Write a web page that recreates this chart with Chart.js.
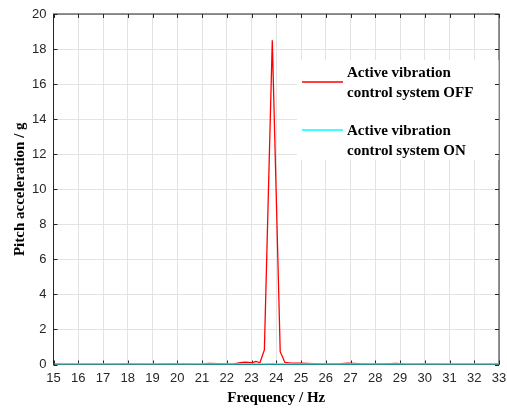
<!DOCTYPE html>
<html>
<head>
<meta charset="utf-8">
<script src="https://cdn.jsdelivr.net/npm/chart.js@4/dist/chart.umd.min.js"></script>
<style>
  html, body { margin: 0; padding: 0; background: #fff; }
  #wrap { width: 507px; height: 410px; }
</style>
</head>
<body>
<div id="wrap"><canvas id="grafico" width="507" height="410"></canvas></div>
<script>
// Frecuencias (Hz) y aceleración de cabeceo (g) con el control activo apagado / encendido
const frecuencias = [15.04, 15.5, 16, 16.5, 17, 17.5, 18, 18.5, 19, 19.5, 20, 20.5, 21, 21.3, 21.6, 22, 22.3,
  22.54, 22.74, 23.01, 23.18, 23.34, 23.52, 23.84, 24.16, 24.35, 24.6, 24.96, 25.5, 26, 26.5, 26.9, 27.1,
  27.5, 28, 28.5, 28.8, 29.2, 29.5, 30, 30.5, 31, 31.5, 32, 32.5, 33];
const controlOff = [0.02, 0.02, 0.02, 0.02, 0.02, 0.02, 0.03, 0.02, 0.02, 0.03, 0.03, 0.02, 0.03, 0.06, 0.05, 0.03, 0.04,
  0.10, 0.14, 0.10, 0.18, 0.10, 0.83, 18.5, 0.73, 0.12, 0.08, 0.07, 0.05, 0.04, 0.03, 0.07, 0.06,
  0.03, 0.04, 0.03, 0.06, 0.03, 0.02, 0.03, 0.02, 0.02, 0.02, 0.02, 0.02, 0.02];
const controlOn = [0.02, 0.02, 0.02, 0.02, 0.02, 0.02, 0.02, 0.02, 0.02, 0.02, 0.02, 0.02, 0.02, 0.02, 0.02, 0.02, 0.02,
  0.02, 0.02, 0.02, 0.02, 0.02, 0.02, 0.03, 0.02, 0.02, 0.02, 0.02, 0.02, 0.02, 0.02, 0.02, 0.02,
  0.02, 0.02, 0.02, 0.02, 0.02, 0.02, 0.02, 0.02, 0.02, 0.02, 0.02, 0.02, 0.02];
const etiquetasLeyenda = [
  ["Active vibration", "control system OFF"],
  ["Active vibration", "control system ON"]
];

const colorEje = "#262626";
const fuenteTitulo = { family: "'Liberation Serif', 'Times New Roman', serif", size: 15, weight: "bold" };
const fuenteTicks = { family: "'Liberation Sans', Arial, sans-serif", size: 13 };

// Marco completo con marcas hacia dentro (debajo de las curvas) y leyenda de dos líneas (encima)
const marcoYLeyenda = {
  id: "marcoYLeyenda",
  beforeDatasetsDraw(chart) {
    const ctx = chart.ctx;
    const { left, right, top, bottom } = chart.chartArea;
    const x = chart.scales.x, y = chart.scales.y;
    ctx.save();
    ctx.strokeStyle = colorEje;
    ctx.lineWidth = 1;
    ctx.strokeRect(left, top, right - left, bottom - top);
    ctx.beginPath();
    x.ticks.forEach(t => {
      const px = Math.round(x.getPixelForValue(t.value)) + 0.5;
      ctx.moveTo(px, bottom); ctx.lineTo(px, bottom - 4);
      ctx.moveTo(px, top); ctx.lineTo(px, top + 4);
    });
    y.ticks.forEach(t => {
      const py = Math.round(y.getPixelForValue(t.value)) + 0.5;
      ctx.moveTo(left, py); ctx.lineTo(left + 4, py);
      ctx.moveTo(right, py); ctx.lineTo(right - 4, py);
    });
    ctx.stroke();
    ctx.restore();
  },
  afterDatasetsDraw(chart) {
    const ctx = chart.ctx;
    const { right } = chart.chartArea;
    const y = chart.scales.y;
    ctx.save();
    ctx.fillStyle = "#fff";
    ctx.fillRect(297, 60, right - 297 - 0.5, 100);
    const filas = [{ linea: 82, texto: 73 }, { linea: 130, texto: 131 }];
    chart.data.datasets.forEach((ds, i) => {
      ctx.strokeStyle = ds.borderColor;
      ctx.lineWidth = 1.5;
      ctx.beginPath();
      ctx.moveTo(302, filas[i].linea);
      ctx.lineTo(343, filas[i].linea);
      ctx.stroke();
      ctx.fillStyle = "#000";
      ctx.font = "bold 15px 'Liberation Serif', 'Times New Roman', serif";
      ctx.textBaseline = "middle";
      etiquetasLeyenda[i].forEach((t, j) => ctx.fillText(t, 347, filas[i].texto + j * 20));
    });
    // las marcas del eje derecho quedan por encima de la leyenda
    ctx.strokeStyle = colorEje;
    ctx.lineWidth = 1;
    ctx.beginPath();
    y.ticks.forEach(t => {
      const py = Math.round(y.getPixelForValue(t.value)) + 0.5;
      if (py > 60 && py < 160) { ctx.moveTo(right, py); ctx.lineTo(right - 4, py); }
    });
    ctx.stroke();
    ctx.restore();
  }
};

new Chart(document.getElementById("grafico"), {
  type: "line",
  data: {
    datasets: [
      {
        label: "Active vibration control system OFF",
        data: frecuencias.map((f, i) => ({ x: f, y: controlOff[i] })),
        borderColor: "#ff0000",
        borderWidth: 1.3,
        pointRadius: 0,
        tension: 0,
        order: 1
      },
      {
        label: "Active vibration control system ON",
        data: frecuencias.map((f, i) => ({ x: f, y: controlOn[i] })),
        borderColor: "#00ffff",
        borderWidth: 2,
        pointRadius: 0,
        tension: 0,
        order: 0
      }
    ]
  },
  options: {
    responsive: false,
    animation: false,
    layout: { padding: { top: 14, right: 8, left: 0, bottom: 0 } },
    plugins: { legend: { display: false }, tooltip: { enabled: false } },
    scales: {
      x: {
        type: "linear",
        min: 15,
        max: 33,
        afterFit(scale) {
          scale.height = 45.5;
          scale.paddingLeft = 0;
          scale.paddingRight = 0;
        },
        ticks: { stepSize: 1, color: colorEje, font: fuenteTicks, padding: 6, maxRotation: 0 },
        grid: { color: "#e3e3e3", drawTicks: false },
        border: { display: false },
        title: { display: true, text: "Frequency / Hz", color: "#000", font: fuenteTitulo, padding: { top: 0, bottom: 3 } }
      },
      y: {
        min: 0,
        max: 20,
        afterFit(scale) {
          scale.width = 53.5;
          scale.paddingTop = 0;
          scale.paddingBottom = 0;
        },
        ticks: { stepSize: 2, color: colorEje, font: fuenteTicks, padding: 7 },
        grid: { color: "#e3e3e3", drawTicks: false },
        border: { display: false },
        title: { display: true, text: "Pitch acceleration / g", color: "#000", font: fuenteTitulo, padding: { top: 11, bottom: 0 } }
      }
    }
  },
  plugins: [marcoYLeyenda]
});
</script>
</body>
</html>
